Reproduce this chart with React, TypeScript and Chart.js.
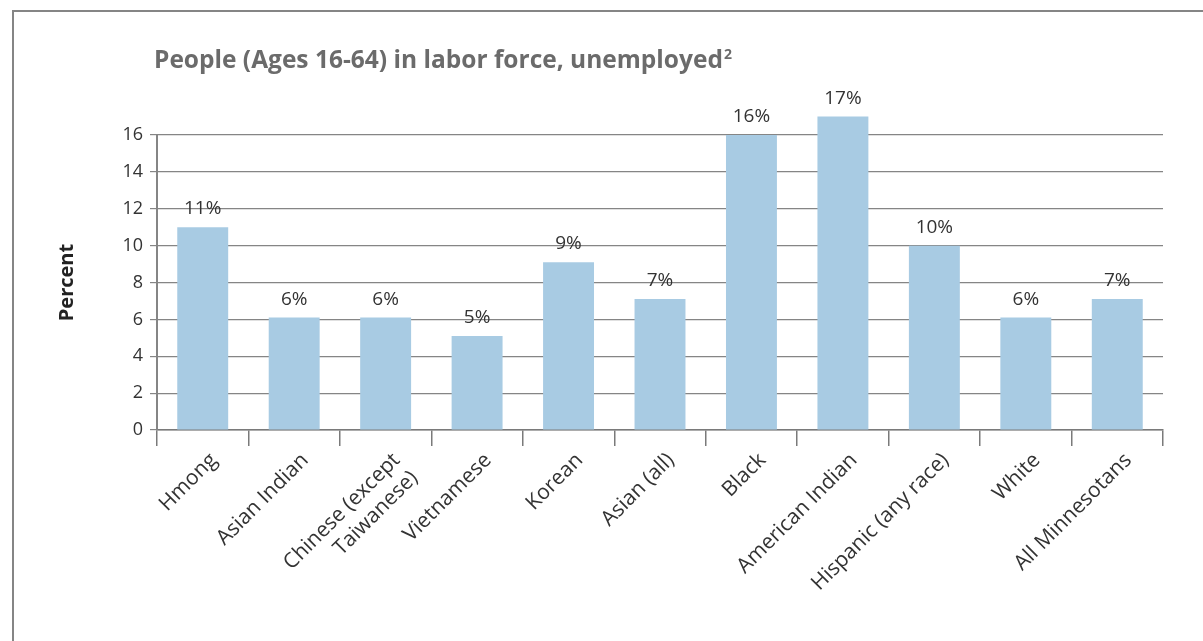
import React, { useEffect, useRef } from "react";
import { Chart, registerables } from "chart.js";

Chart.register(...registerables);

const categories: (string | string[])[] = [
  "Hmong",
  "Asian Indian",
  ["Chinese (except", "Taiwanese)"],
  "Vietnamese",
  "Korean",
  "Asian (all)",
  "Black",
  "American Indian",
  "Hispanic (any race)",
  "White",
  "All Minnesotans",
];
const unemployedPct: number[] = [11.0, 6.1, 6.1, 5.1, 9.1, 7.1, 16.0, 17.0, 10.0, 6.1, 7.1];
const valueLabels: string[] = ["11%", "6%", "6%", "5%", "9%", "7%", "16%", "17%", "10%", "6%", "7%"];
const yTicks: number[] = [0, 2, 4, 6, 8, 10, 12, 14, 16];

const TITLE = "People (Ages 16-64) in labor force, unemployed";
const TITLE_SUP = "2";
const Y_TITLE = "Percent";

const FONT = "'Open Sans', 'Noto Sans', sans-serif";

const decorPlugin = {
  id: "decor",
  beforeDraw(chart: any) {
    const ctx = chart.ctx;
    ctx.save();
    ctx.strokeStyle = "#858585";
    ctx.lineWidth = 2;
    ctx.beginPath();
    ctx.moveTo(13, chart.height);
    ctx.lineTo(13, 11);
    ctx.lineTo(chart.width, 11);
    ctx.stroke();
    ctx.restore();
  },
  afterDraw(chart: any) {
    const ctx = chart.ctx;
    const area = chart.chartArea;
    ctx.save();
    // Title
    ctx.fillStyle = "#6b6b6b";
    ctx.font = `bold 24.5px ${FONT}`;
    ctx.textAlign = "left";
    ctx.textBaseline = "alphabetic";
    ctx.fillText(TITLE, 154, 68);
    const w = ctx.measureText(TITLE).width;
    ctx.font = `bold 14px ${FONT}`;
    ctx.fillText(TITLE_SUP, 154 + w + 1, 59);
    // Y title
    ctx.fillStyle = "#222222";
    ctx.font = `bold 20px ${FONT}`;
    ctx.translate(67, (area.top + area.bottom) / 2);
    ctx.rotate(-Math.PI / 2);
    ctx.textAlign = "center";
    ctx.textBaseline = "middle";
    ctx.fillText(Y_TITLE, 0, 0);
    ctx.restore();
  },
  afterDatasetsDraw(chart: any) {
    const ctx = chart.ctx;
    const meta = chart.getDatasetMeta(0);
    ctx.save();
    ctx.fillStyle = "#333333";
    ctx.font = `19px ${FONT}`;
    ctx.textAlign = "center";
    ctx.textBaseline = "alphabetic";
    meta.data.forEach((bar: any, i: number) => {
      ctx.fillText(valueLabels[i], bar.x, bar.y - 13);
    });
    ctx.restore();
  },
};

export default function App() {
  const ref = useRef<HTMLCanvasElement | null>(null);

  useEffect(() => {
    document.body.style.margin = "0";
    if (!ref.current) return;
    const chart = new Chart(ref.current, {
      type: "bar",
      data: {
        labels: categories,
        datasets: [
          {
            data: unemployedPct,
            backgroundColor: "#a8cbe3",
            borderWidth: 0,
            categoryPercentage: 1,
            barPercentage: 0.557,
            clip: false as any,
          },
        ],
      },
      options: {
        responsive: false,
        animation: false,
        devicePixelRatio: 1,
        layout: { padding: { top: 135, right: 40, left: 0, bottom: 0 } },
        plugins: {
          legend: { display: false },
          tooltip: { enabled: false },
          title: { display: false },
        },
        scales: {
          x: {
            grid: {
              offset: true,
              drawOnChartArea: false,
              drawTicks: true,
              tickLength: 16,
              color: "#7a7a7a",
              lineWidth: 1.5,
            },
            border: { display: true, color: "#7a7a7a", width: 1.5 },
            ticks: {
              color: "#333333",
              font: { family: FONT, size: 21 },
              minRotation: 45,
              maxRotation: 45,
              autoSkip: false,
              padding: 2,
              labelOffset: 11,
            },
            afterFit: (scale: any) => {
              scale.height = 641 - 430;
            },
          },
          y: {
            min: 0,
            max: 16,
            afterBuildTicks: (scale: any) => {
              scale.ticks = yTicks.map((v) => ({ value: v }));
            },
            grid: {
              color: "#858585",
              lineWidth: 1.2,
              drawTicks: true,
              tickLength: 7,
            },
            border: { display: true, color: "#858585", width: 2 },
            ticks: {
              color: "#333333",
              font: { family: FONT, size: 18 },
              padding: 7,
            },
            afterFit: (scale: any) => {
              scale.width = 157;
            },
          },
        },
      },
      plugins: [decorPlugin],
    });
    return () => chart.destroy();
  }, []);

  return (
    <div style={{ width: 1203, height: 641, background: "#ffffff" }}>
      <canvas ref={ref} width={1203} height={641} />
    </div>
  );
}
